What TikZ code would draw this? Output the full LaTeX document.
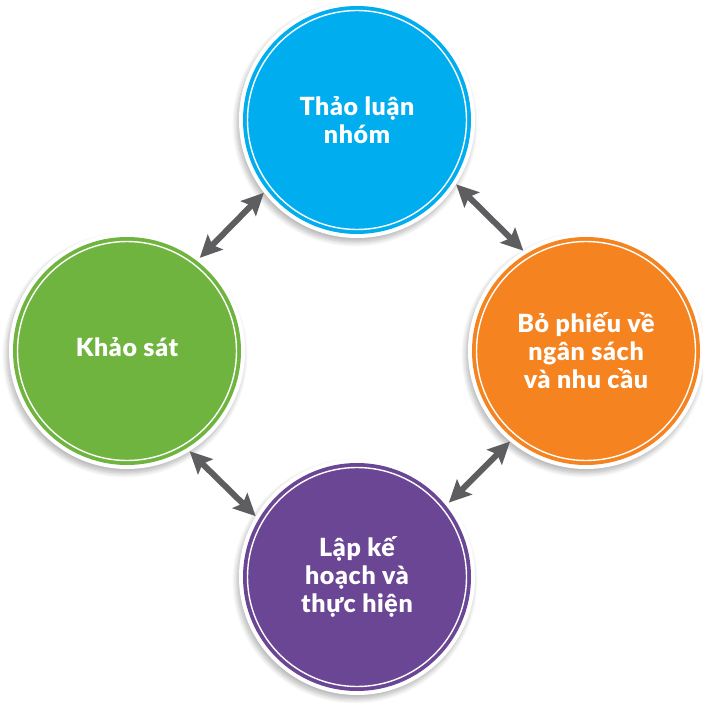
\documentclass[tikz,border=0pt]{standalone}
\usepackage{fontspec}
\setmainfont{Lato}[BoldFont={Lato Black},BoldFeatures={LetterSpace=2.5}]
\usetikzlibrary{arrows.meta,shadows.blur}
\definecolor{cblue}{HTML}{00AEEF}
\definecolor{cgreen}{HTML}{6FB43F}
\definecolor{corange}{HTML}{F48320}
\definecolor{cpurple}{HTML}{6A4695}
\definecolor{cgray}{HTML}{5E5E60}
\tikzset{
  bubble/.style={circle, minimum size=236pt, inner sep=0pt, fill=white,
    blur shadow={shadow xshift=-2pt, shadow yshift=-4pt, shadow blur steps=8, shadow blur radius=5pt, shadow opacity=30},
    text=white, align=center, font=\bfseries\fontsize{25}{28}\selectfont,
    path picture={
      \fill[#1] (path picture bounding box.center) circle (114pt);
      \draw[white, line width=1.4pt] (path picture bounding box.center) circle (109.5pt);
    }},
  link/.style={cgray, line width=6pt,
    {Stealth[length=22pt,width=21pt,inset=4pt]}-{Stealth[length=22pt,width=21pt,inset=4pt]}}
}
\begin{document}
\begin{tikzpicture}[x=1pt,y=-1pt]
\useasboundingbox (0,0) rectangle (702,703);
\node[bubble=cblue] (top) at (357,120) {Thảo luận\\nhóm};
\node[bubble=cgreen] (left) at (127,351) {\raisebox{8pt}{Khảo sát}};
\node[bubble=corange] (right) at (586,351) {Bỏ phiếu về\\ngân sách\\và nhu cầu};
\node[bubble=cpurple] (bottom) at (357,577) {Lập kế\\hoạch và\\thực hiện};
\draw[link] (left.52) -- (top.218);
\draw[link] (top.327) -- (right.122);
\draw[link] (right.230) -- (bottom.39);
\draw[link] (bottom.149) -- (left.302.5);
\end{tikzpicture}
\end{document}
